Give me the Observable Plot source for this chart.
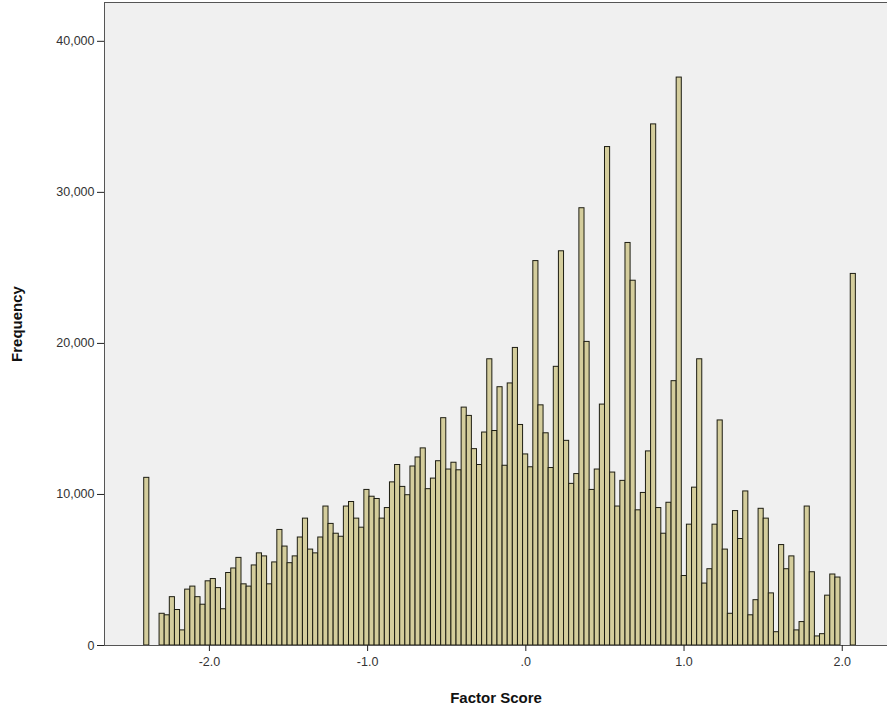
<!DOCTYPE html>
<html>
<head>
<meta charset="utf-8">
<script src="https://cdn.jsdelivr.net/npm/d3@7"></script>
<script src="https://cdn.jsdelivr.net/npm/@observablehq/plot@0.6"></script>
<style>
  body { margin: 0; background: #fff; }
  #chart svg g[aria-label="x-axis label"] text,
  #chart svg g[aria-label="y-axis label"] text { font-weight: bold; font-size: 15px; fill: #111; }
  #chart svg g[aria-label="x-axis tick label"] text,
  #chart svg g[aria-label="y-axis tick label"] text { font-size: 12.5px; fill: #333; }
</style>
</head>
<body>
<div id="chart"></div>
<script>
// Tick positions and labels
const xTicks = [-2, -1, 0, 1, 2];
const xTickLabels = ["-2.0", "-1.0", ".0", "1.0", "2.0"];
const yTicks = [0, 10000, 20000, 30000, 40000];
const yTickLabels = ["0", "10,000", "20,000", "30,000", "40,000"];

// Histogram bins (lower edge of first bin and bin width, in Factor Score units)
const binStart = -2.412;
const binWidth = 0.03236;

// Frequency per bin, left to right
const frequencies = [
  11100, 0, 0,
  2100, 2000, 3200, 2350, 1000, 3700, 3900, 3200, 2700, 4250,
  4400, 3800, 2400, 4800, 5100, 5800, 4050, 3900, 5300, 6100,
  5900, 4050, 5500, 7650, 6550, 5450, 5900, 7150, 8400, 6350,
  6100, 7150, 9200, 8050, 7400, 7200, 9200, 9500, 8400, 7800,
  10300, 9850, 9700, 8400, 9100, 10800, 11950, 10500, 9950, 11850,
  12450, 13050, 10350, 11050, 12200, 15050, 11650, 12100, 11600, 15750,
  15200, 13000, 11950, 14100, 18950, 14200, 17100, 11900, 17350, 19700,
  14600, 12650, 11800, 25450, 15900, 14050, 11750, 18450, 26100, 13550,
  10700, 11350, 28950, 20100, 10300, 11650, 15950, 33000, 11450, 9200,
  10900, 26650, 24150, 8950, 10100, 12850, 34500, 9100, 7400, 9450,
  17500, 37600, 4600, 8000, 10450, 18950, 4100, 5050, 8000, 14900,
  6350, 2100, 8900, 7050, 10200, 2000, 3000, 9050, 8400, 3450,
  880, 6650, 5050, 5900, 1000, 1550, 9200, 4850, 600, 750,
  3300, 4700, 4500,
  0, 0, 24600
];

const bins = frequencies
  .map((f, i) => ({ x1: binStart + i * binWidth, x2: binStart + (i + 1) * binWidth, f }))
  .filter(d => d.f > 0);

const chart = Plot.plot({
  width: 887,
  height: 713,
  marginLeft: 104,
  marginRight: 0,
  marginTop: 2,
  marginBottom: 68,
  style: {
    fontFamily: "'Liberation Sans', Arial, sans-serif",
    fontSize: "12px",
    color: "#222",
    background: "#fff"
  },
  x: { domain: [-2.663, 2.286] },
  y: { domain: [0, 42570] },
  marks: [
    Plot.frame({ fill: "#f0f0f0" }),
    Plot.rectY(bins, { x1: "x1", x2: "x2", y: "f", fill: "#d4cd9c", stroke: "#1d1d12", strokeWidth: 1 }),
    Plot.frame({ stroke: "#555" }),
    Plot.axisY(yTicks, {
      tickFormat: d => yTickLabels[yTicks.indexOf(d)],
      tickSize: 7, tickPadding: 3,
      label: "Frequency", labelAnchor: "center", labelArrow: "none", labelOffset: 93
    }),
    Plot.axisX(xTicks, {
      tickFormat: d => xTickLabels[xTicks.indexOf(d)],
      tickSize: 6, tickPadding: 6,
      label: "Factor Score", labelAnchor: "center", labelArrow: "none", labelOffset: 57
    })
  ]
});

document.getElementById("chart").appendChild(chart);
</script>
</body>
</html>
